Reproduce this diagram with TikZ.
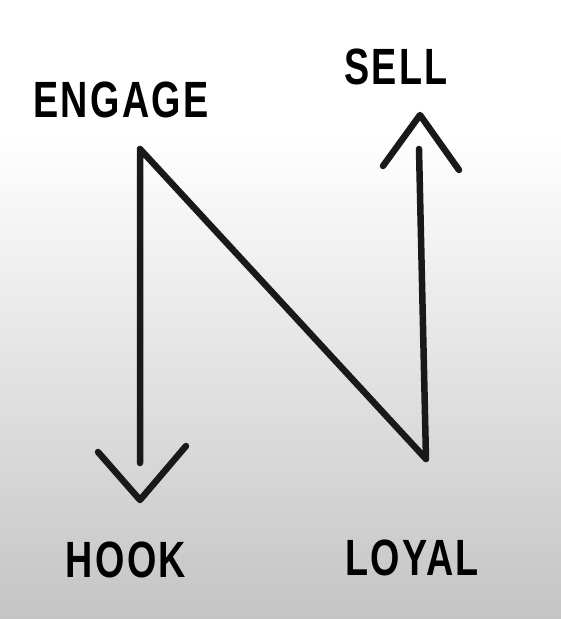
\documentclass[tikz,border=0pt]{standalone}
\usepackage{fontspec}
\setmainfont{Liberation Sans}[LetterSpace=6]
\usetikzlibrary{calc}
\tikzset{
  lbl/.style={inner sep=0pt, font=\fontsize{51}{60}\selectfont\bfseries},
  stroke/.style={line width=6.5pt, line cap=round, line join=round, black!90},
}
\newcommand{\narrow}[1]{\scalebox{0.74}[1]{#1}}
\begin{document}
\begin{tikzpicture}[x=1pt,y=-1pt]
  \useasboundingbox (0,0) rectangle (561,619);
  \fill[white] (0,0) rectangle (561,136);
  \shade[top color=white, bottom color=black!23] (0,135) rectangle (561,619);
  % labels
  \node[lbl] (engage) at (121,100) {\narrow{ENGAGE}};
  \node[lbl] (sell) at (396,67) {\narrow{SELL}};
  \node[lbl] (hook) at (126,560) {\narrow{HOOK}};
  \node[lbl] (loyal) at (412,558) {\narrow{LOYAL}};
  % points of the path
  \coordinate (hookend) at (140,463);
  \coordinate (topleft) at (140,149);
  \coordinate (botright) at (426,459);
  \coordinate (sellend) at (419,149);
  \coordinate (hl) at (98,452);
  \coordinate (htip) at (140,500);
  \coordinate (hr) at (186,446);
  \coordinate (sl) at (383,166);
  \coordinate (stip) at (420,115);
  \coordinate (sr) at (459,170);
  \draw[stroke] (hookend) -- (topleft) -- (botright) -- (sellend);
  \draw[stroke] (hl) -- (htip) -- (hr);
  \draw[stroke] (sl) -- (stip) -- (sr);
\end{tikzpicture}
\end{document}
